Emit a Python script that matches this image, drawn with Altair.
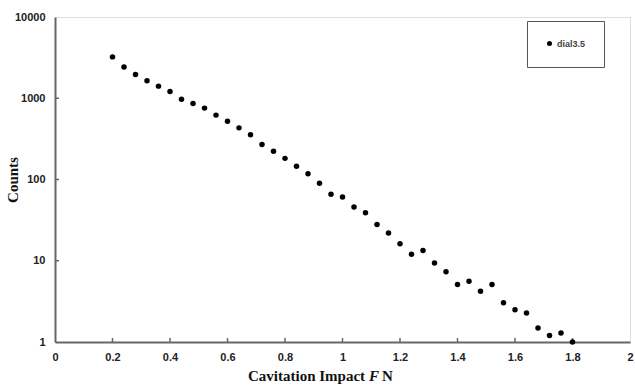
import altair as alt
import pandas as pd

impact = [0.2, 0.24, 0.28, 0.32, 0.36, 0.4, 0.44, 0.48, 0.52, 0.56, 0.6, 0.64, 0.68,
          0.72, 0.76, 0.8, 0.84, 0.88, 0.92, 0.96, 1.0, 1.04, 1.08, 1.12, 1.16, 1.2,
          1.24, 1.28, 1.32, 1.36, 1.4, 1.44, 1.48, 1.52, 1.56, 1.6, 1.64, 1.68, 1.72,
          1.76, 1.8]
counts = [3230, 2430, 1960, 1640, 1410, 1210, 975, 863, 756, 620, 522, 432, 355,
          270, 223, 182, 146, 118, 90, 66, 61, 46, 39, 28, 22, 16.2,
          12, 13.4, 9.4, 7.3, 5.1, 5.6, 4.2, 5.1, 3.05, 2.5, 2.27, 1.49, 1.2,
          1.29, 1]
series_name = "dial3.5"

x_ticks = [0, 0.2, 0.4, 0.6, 0.8, 1, 1.2, 1.4, 1.6, 1.8, 2]
y_ticks = [1, 10, 100, 1000, 10000]
x_inner_ticks = [0.2, 0.4, 0.6, 0.8, 1, 1.2, 1.4, 1.6, 1.8]
y_inner_ticks = [10, 100, 1000]

W, H = 575, 325

df = pd.DataFrame({"impact": impact, "counts": counts, "series": [series_name] * len(impact)})

xscale = alt.Scale(domain=[0, 2], nice=False, zero=False)
yscale = alt.Scale(type="log", domain=[1, 10000], nice=False)

label_font = "Liberation Sans"

points = alt.Chart(df).mark_circle(size=30, opacity=1, clip=False).encode(
    x=alt.X("impact:Q", scale=xscale,
            axis=alt.Axis(values=x_ticks, format="~g", title=None, ticks=False,
                          labelFlush=False, labelOverlap=False, labelPadding=9,
                          labelFont=label_font, labelFontWeight="bold",
                          labelFontSize=11, labelColor="#222",
                          domainColor="#666", domainWidth=2, grid=False)),
    y=alt.Y("counts:Q", scale=yscale,
            axis=alt.Axis(values=y_ticks, format="d", title=None, ticks=False,
                          labelFlush=False, labelOverlap=False, labelPadding=10,
                          labelFont=label_font, labelFontWeight="bold",
                          labelFontSize=11, labelColor="#222",
                          domainColor="#666", domainWidth=2, grid=False)),
    color=alt.Color("series:N", scale=alt.Scale(range=["black"]),
                    legend=alt.Legend(title=None, orient="none", legendX=472, legendY=4,
                                      padding=18, strokeColor="#555", fillColor="white",
                                      symbolType="circle", symbolSize=25,
                                      labelFont=label_font, labelFontSize=9,
                                      labelFontWeight="bold",
                                      labelColor="#444", labelOffset=3)),
)

xt = alt.Chart(pd.DataFrame({"impact": x_inner_ticks})).mark_rule(
    color="#666", strokeWidth=1.5).encode(
    x=alt.X("impact:Q", scale=xscale),
    y=alt.value(H - 4), y2=alt.value(H))

yt = alt.Chart(pd.DataFrame({"counts": y_inner_ticks})).mark_rule(
    color="#666", strokeWidth=1.5).encode(
    y=alt.Y("counts:Q", scale=yscale),
    x=alt.value(0), x2=alt.value(4))

serif = "Liberation Serif"
t1 = alt.Chart(pd.DataFrame({"t": ["Cavitation Impact"]})).mark_text(
    font=serif, fontSize=15, fontWeight="bold", align="left", baseline="alphabetic",
    color="#111").encode(x=alt.value(193), y=alt.value(364), text="t:N")
t2 = alt.Chart(pd.DataFrame({"t": ["F"]})).mark_text(
    font=serif, fontSize=15, fontWeight="bold", fontStyle="italic", align="left",
    baseline="alphabetic", color="#111").encode(x=alt.value(314), y=alt.value(364), text="t:N")
t3 = alt.Chart(pd.DataFrame({"t": ["N"]})).mark_text(
    font=serif, fontSize=15, fontWeight="bold", align="left", baseline="alphabetic",
    color="#111").encode(x=alt.value(327), y=alt.value(364), text="t:N")
ty = alt.Chart(pd.DataFrame({"t": ["Counts"]})).mark_text(
    font=serif, fontSize=15, fontWeight="bold", align="center", baseline="middle",
    angle=270, color="#111").encode(x=alt.value(-42), y=alt.value(163), text="t:N")

chart = alt.layer(xt, yt, points, t1, t2, t3, ty).properties(
    width=W, height=H,
    autosize=alt.AutoSizeParams(type="none"),
    padding={"left": 55, "top": 17, "right": 5, "bottom": 45},
).configure_view(stroke="#888", strokeWidth=1.5).configure(background="white")

chart.save("out.html", embed_options={"renderer": "svg", "actions": False})
